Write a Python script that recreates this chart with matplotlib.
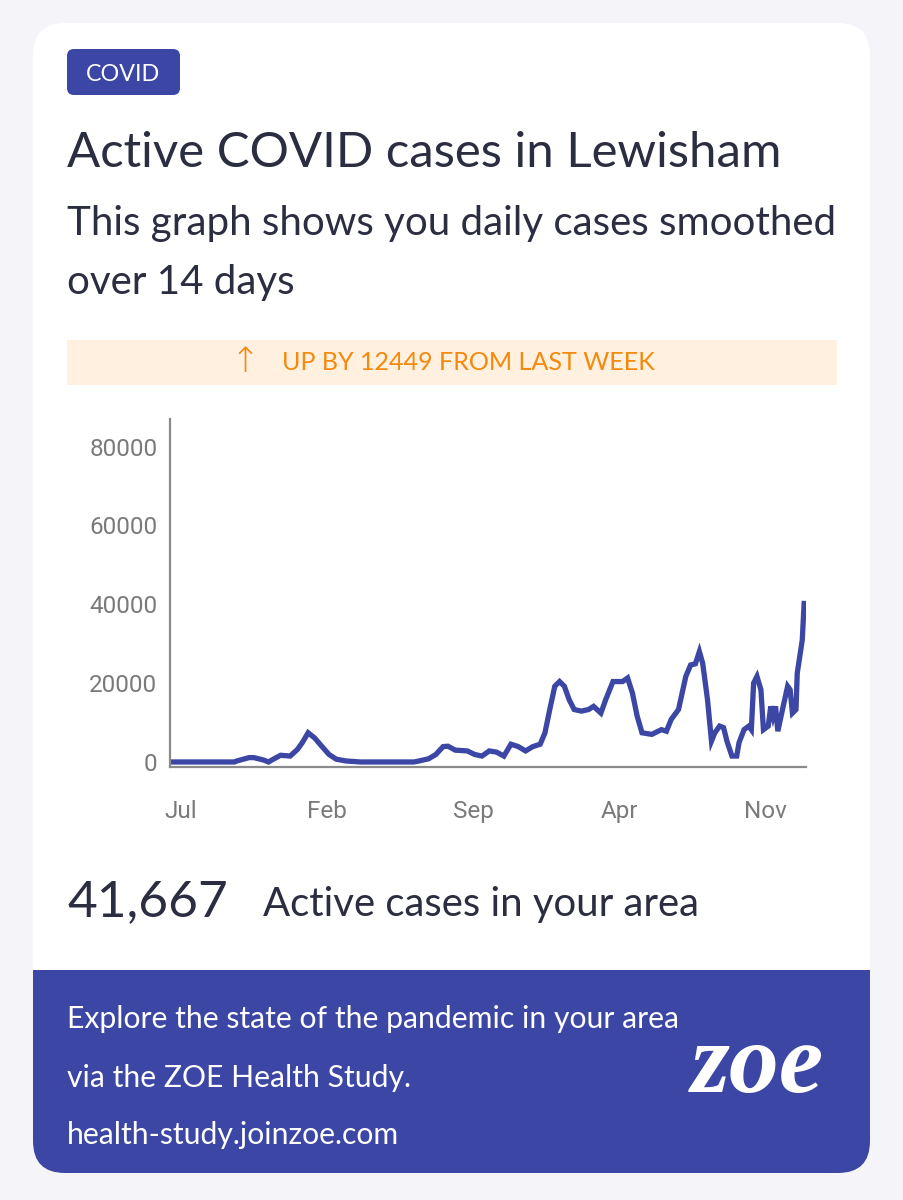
import matplotlib
matplotlib.use('Agg')
import matplotlib.pyplot as plt
from matplotlib.patches import FancyBboxPatch, Rectangle

W, H = 904, 1200

# months counted from the "Jul" tick, active cases
months = [-0.51, 2.56, 2.67, 3.26, 3.49, 3.95, 4.19, 4.42, 4.77, 5.23,
          5.58, 5.81, 6.09, 6.40, 6.74, 7.09, 7.44, 7.91, 8.60, 9.07,
          11.16, 11.40, 11.86, 12.21, 12.56, 12.79, 13.14, 13.72, 14.07, 14.42,
          14.77, 15.12, 15.47, 15.81, 16.16, 16.51, 16.86, 17.21, 17.44, 17.67,
          17.91, 18.14, 18.37, 18.60, 18.84, 19.19, 19.53, 19.77, 20.12, 20.35,
          20.70, 21.16, 21.40, 21.63, 21.86, 22.09, 22.56, 23.02, 23.26, 23.49,
          23.84, 24.19, 24.42, 24.65, 24.84, 25.00, 25.23, 25.42, 25.58, 25.81,
          26.00, 26.16, 26.40, 26.63, 26.74, 26.98, 27.21, 27.33, 27.44, 27.60,
          27.79, 27.91, 28.14, 28.26, 28.37, 28.49, 28.60, 28.84, 29.07, 29.19,
          29.30, 29.47, 29.53, 29.77, 29.86]
cases_k = [0, 0, 0.25, 1.1, 1.1, 0.5, 0, 0.7, 1.7, 1.5,
           3.2, 4.9, 7.4, 6.1, 4.0, 1.9, 0.7, 0.25, 0, 0,
           0, 0.25, 0.8, 1.9, 3.9, 4.0, 3.0, 2.8, 1.9, 1.5,
           2.8, 2.5, 1.5, 4.5, 3.9, 2.8, 3.9, 4.5, 7.4, 13.3,
           19.2, 20.4, 19.2, 15.8, 13.3, 12.9, 13.3, 14.1, 12.4, 15.8,
           20.4, 20.4, 21.3, 17.5, 11.6, 7.4, 7.0, 8.2, 7.8, 10.8,
           13.3, 21.7, 24.6, 24.9, 28.0, 25.0, 15.8, 5.3, 7.4, 9.1,
           8.7, 5.3, 1.5, 1.5, 4.9, 8.2, 9.1, 8.2, 20.0, 21.7,
           18.3, 8.2, 9.1, 14.1, 11.6, 14.1, 7.8, 13.7, 19.2, 18.3,
           12.4, 13.3, 22.5, 30.9, 40.2]
cases = [c * 1000 for c in cases_k]

tick_pos = [0, 7, 14, 21, 28]
tick_labels = ['Jul', 'Feb', 'Sep', 'Apr', 'Nov']
yticks = [0, 20000, 40000, 60000, 80000]

BLUE = '#3b46a5'
DARK = '#2b2d40'
ORANGE = '#f5890d'
FONT = 'Lato'

fig = plt.figure(figsize=(W / 100, H / 100), dpi=100, facecolor='#f4f4f9')
renderer = fig.canvas.get_renderer()

bg = fig.add_axes([0, 0, 1, 1])
bg.set_xlim(0, W)
bg.set_ylim(H, 0)
bg.axis('off')

# card + footer
bg.add_patch(FancyBboxPatch((33, 23), 837, 1150, boxstyle='round,pad=0,rounding_size=32',
                            fc='white', ec='none'))
bg.add_patch(FancyBboxPatch((33, 970), 837, 203, boxstyle='round,pad=0,rounding_size=32',
                            fc=BLUE, ec='none'))
bg.add_patch(Rectangle((33, 970), 837, 50, fc=BLUE, ec='none'))
# badge + banner
bg.add_patch(FancyBboxPatch((67, 49), 113, 46, boxstyle='round,pad=0,rounding_size=7',
                            fc=BLUE, ec='none'))
bg.add_patch(Rectangle((67, 340), 770, 45, fc='#fff0df', ec='none'))


def fit_text(x, y, s, width, color, family=FONT, ha='left', **kw):
    t = bg.text(x, y, s, fontsize=20, color=color, family=family, ha=ha, va='baseline', **kw)
    w = t.get_window_extent(renderer).width
    t.set_fontsize(20 * width / w)
    return t


fit_text(123, 81, 'COVID', 74, 'white', ha='center')
fit_text(67, 167, 'Active COVID cases in Lewisham', 716, DARK)
t = fit_text(67, 235, 'This graph shows you daily cases smoothed', 768, DARK)
bg.text(67, 294, 'over 14 days', fontsize=t.get_fontsize(), color=DARK, family=FONT, va='baseline')

fit_text(468, 370, 'UP BY 12449 FROM LAST WEEK', 374, ORANGE, ha='center')
bg.text(245, 362, '\u2191', fontsize=25, color=ORANGE, family='DejaVu Sans',
        ha='center', va='center', weight='light')

fit_text(67, 916, '41,667', 161, DARK)
fit_text(263, 916, 'Active cases in your area', 437, DARK)

t = fit_text(67, 1028, 'Explore the state of the pandemic in your area', 614, 'white')
fs = t.get_fontsize()
bg.text(67, 1087, 'via the ZOE Health Study.', fontsize=fs, color='white', family=FONT, va='baseline')
bg.text(67, 1144, 'health-study.joinzoe.com', fontsize=fs, color='white', family=FONT, va='baseline')
fit_text(757, 1092, 'zoe', 133, 'white', family='Liberation Serif', ha='center',
         weight='bold', style='italic')

# chart
ax = fig.add_axes([170 / W, 1 - 766.7 / H, 636 / W, 347.7 / H])
ax.set_facecolor('none')
ax.plot(months, cases, color=BLUE, lw=3.8, solid_joinstyle='miter')
ax.set_xlim(-0.53, 29.95)
ax.set_ylim(-1200, 87000)
ax.set_xticks(tick_pos)
ax.set_xticklabels(tick_labels)
ax.set_yticks(yticks)
ax.set_yticklabels([str(v) for v in yticks])
for s in ['top', 'right']:
    ax.spines[s].set_visible(False)
for s in ['left', 'bottom']:
    ax.spines[s].set_color('#8a8a8a')
    ax.spines[s].set_linewidth(1.6)
ax.tick_params(axis='both', length=0, labelsize=17.5, labelcolor='#7a7a7a')
ax.tick_params(axis='x', pad=24)
ax.tick_params(axis='y', pad=9)
for lab in ax.get_xticklabels() + ax.get_yticklabels():
    lab.set_family('Roboto')

fig.savefig('out.png', dpi=100, facecolor=fig.get_facecolor())
